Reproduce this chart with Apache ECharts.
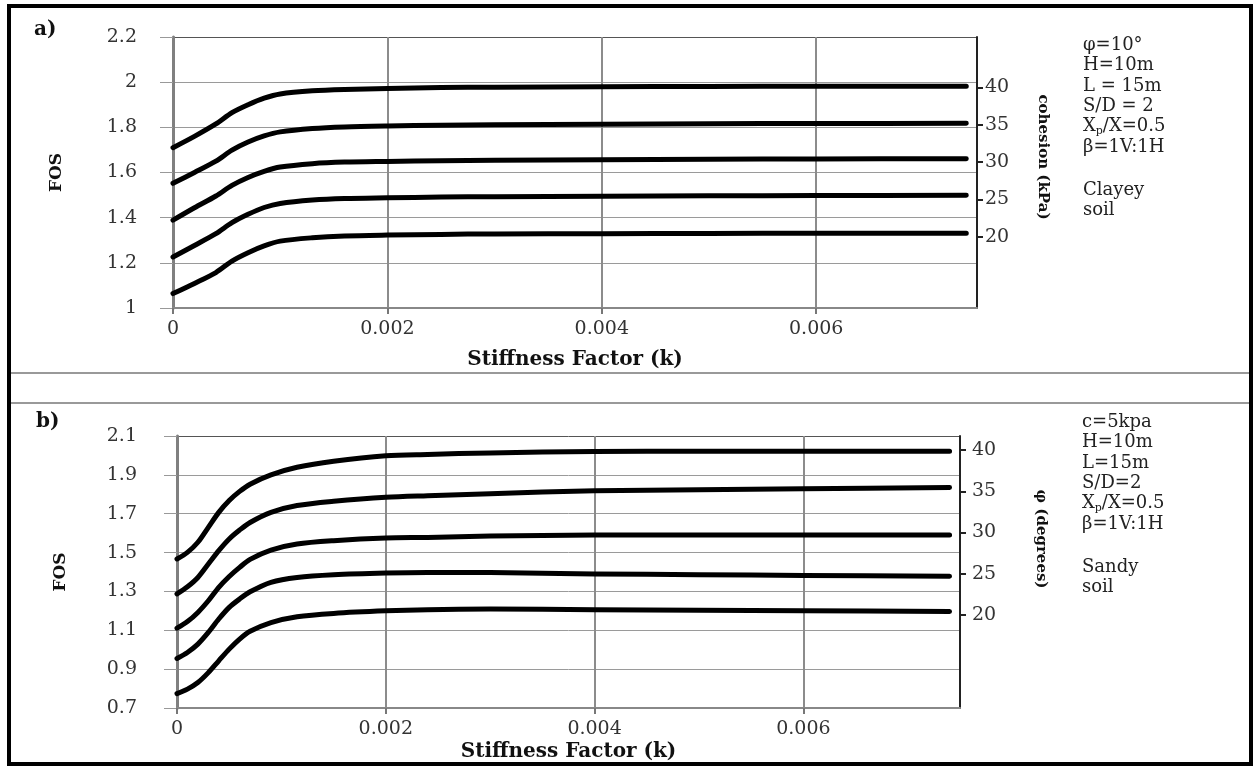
<!DOCTYPE html>
<html>
<head>
<meta charset="utf-8">
<title>FOS vs Stiffness Factor</title>
<script src="https://cdn.jsdelivr.net/npm/echarts@6/dist/echarts.min.js"></script>
<style>
  html, body { margin: 0; padding: 0; background: #fff; }
  #chart { width: 1258px; height: 769px; }
</style>
</head>
<body>
<div id="chart"></div>
<script>
(function () {

	// a) clayey soil - curves for cohesion 40..20 kPa
	var kA = [0, 0.0002, 0.0004, 0.00055, 0.0007, 0.00085, 0.001, 0.0013, 0.0016, 0.002, 0.0025, 0.003, 0.004, 0.005, 0.006, 0.0074];
	var fosC40 = [1.71, 1.76, 1.815, 1.865, 1.9, 1.929, 1.948, 1.962, 1.968, 1.972, 1.976, 1.978, 1.98, 1.981, 1.982, 1.982];
	var fosC35 = [1.552, 1.6, 1.65, 1.699, 1.735, 1.762, 1.78, 1.795, 1.802, 1.806, 1.809, 1.811, 1.814, 1.816, 1.817, 1.818];
	var fosC30 = [1.389, 1.444, 1.496, 1.543, 1.578, 1.605, 1.624, 1.639, 1.646, 1.649, 1.652, 1.654, 1.657, 1.659, 1.66, 1.661];
	var fosC25 = [1.226, 1.277, 1.329, 1.378, 1.415, 1.445, 1.463, 1.478, 1.485, 1.488, 1.491, 1.493, 1.495, 1.497, 1.498, 1.499];
	var fosC20 = [1.064, 1.109, 1.157, 1.208, 1.245, 1.275, 1.296, 1.311, 1.319, 1.323, 1.326, 1.328, 1.329, 1.33, 1.331, 1.331];

	// b) sandy soil - curves for friction angle 40..20 degrees
	var kB = [0, 0.0001, 0.0002, 0.0003, 0.0004, 0.0005, 0.0006, 0.0007, 0.0009, 0.00115, 0.0015, 0.002, 0.0024, 0.003, 0.004, 0.005, 0.006, 0.0074];
	var fosP40 = [1.467, 1.501, 1.553, 1.63, 1.707, 1.768, 1.815, 1.852, 1.9, 1.939, 1.97, 1.998, 2.005, 2.013, 2.02, 2.022, 2.022, 2.022];
	var fosP35 = [1.287, 1.324, 1.372, 1.441, 1.51, 1.57, 1.616, 1.655, 1.707, 1.742, 1.764, 1.785, 1.793, 1.803, 1.818, 1.823, 1.828, 1.835];
	var fosP30 = [1.111, 1.145, 1.192, 1.252, 1.321, 1.377, 1.424, 1.465, 1.513, 1.544, 1.561, 1.575, 1.578, 1.585, 1.59, 1.591, 1.591, 1.591];
	var fosP25 = [0.955, 0.986, 1.029, 1.089, 1.158, 1.218, 1.261, 1.298, 1.347, 1.372, 1.386, 1.395, 1.398, 1.397, 1.39, 1.386, 1.382, 1.378];
	var fosP20 = [0.774, 0.797, 0.831, 0.882, 0.943, 1.003, 1.055, 1.095, 1.14, 1.17, 1.187, 1.2, 1.206, 1.209, 1.206, 1.203, 1.2, 1.197];

	// tick labels
	var kTicks = [0, 0.002, 0.004, 0.006];
	var cohesionTicks = [20, 25, 30, 35, 40];
	var phiTicks = [20, 25, 30, 35, 40];

	// notes on the right of each panel
	var notesA = ['φ=10°', 'H=10m', 'L = 15m', 'S/D = 2', 'X{sub|p}/X=0.5', 'β=1V:1H'];
	var soilA = ['Clayey', 'soil'];
	var notesB = ['c=5kpa', 'H=10m', 'L=15m', 'S/D=2', 'X{sub|p}/X=0.5', 'β=1V:1H'];
	var soilB = ['Sandy', 'soil'];

	var FONT = '"DejaVu Serif", "Liberation Serif", serif';

	function pairs(xs, ys) {
		return xs.map(function (x, i) { return [x, ys[i]]; });
	}

	function curve(name, xi, yi, xs, ys) {
		return {
			name: name,
			type: 'line',
			xAxisIndex: xi,
			yAxisIndex: yi,
			data: pairs(xs, ys),
			smooth: 0.3,
			showSymbol: false,
			silent: true,
			lineStyle: { color: '#000', width: 5, cap: 'round', join: 'round' }
		};
	}

	function kAxis(gridIndex, max, gap) {
		return {
			type: 'value',
			gridIndex: gridIndex,
			min: 0,
			max: max,
			interval: 0.002,
			name: 'Stiffness Factor (k)',
			nameLocation: 'middle',
			nameGap: gap,
			nameTextStyle: { fontFamily: FONT, fontSize: 20, fontWeight: 'bold', color: '#111' },
			axisLine: { show: true, lineStyle: { color: '#888', width: 2 } },
			axisTick: { show: true, customValues: kTicks, length: 6, lineStyle: { color: '#777', width: 2 } },
			axisLabel: {
				customValues: kTicks,
				margin: 12,
				fontFamily: FONT, fontSize: 19, color: '#333',
				formatter: function (v) { return v === 0 ? '0' : v.toFixed(3); }
			},
			splitLine: { show: true, lineStyle: { color: '#8c8c8c', width: 2 } }
		};
	}

	function fosAxis(gridIndex, min, max, margin, nLines) {
		var colors = [];
		for (var i = 0; i < nLines - 1; i++) colors.push('#9a9a9a');
		colors.push('#555');
		return {
			type: 'value',
			gridIndex: gridIndex,
			position: 'left',
			min: min,
			max: max,
			interval: 0.2,
			name: 'FOS',
			nameLocation: 'middle',
			nameRotate: 90,
			nameGap: 108,
			nameTextStyle: { fontFamily: FONT, fontSize: 17, fontWeight: 'bold', color: '#111' },
			axisLine: { show: true, lineStyle: { color: '#808080', width: 3 } },
			axisTick: { show: true, length: 13, lineStyle: { color: '#999', width: 1 } },
			axisLabel: { margin: margin, fontFamily: FONT, fontSize: 19, color: '#333' },
			splitLine: { show: true, lineStyle: { color: colors, width: 1 } }
		};
	}

	function sideAxis(gridIndex, min, max, ticks, margin) {
		return {
			type: 'value',
			gridIndex: gridIndex,
			position: 'right',
			min: min,
			max: max,
			axisLine: { show: true, lineStyle: { color: '#222', width: 2 } },
			axisTick: { show: true, customValues: ticks, length: 6, lineStyle: { color: '#222', width: 2 } },
			axisLabel: { customValues: ticks, margin: margin, fontFamily: FONT, fontSize: 19, color: '#333' },
			splitLine: { show: false }
		};
	}

	function noteBlock(lines, x, y) {
		return {
			type: 'text',
			left: x,
			top: y,
			silent: true,
			style: {
				text: lines.join('\n'),
				fontFamily: FONT,
				fontSize: 18,
				lineHeight: 20.4,
				fill: '#222',
				rich: {
					sub: { fontFamily: FONT, fontSize: 11, fill: '#222', verticalAlign: 'middle', padding: [9, 0, 0, 0] }
				}
			}
		};
	}

	function sideName(text, x, y) {
		return {
			type: 'text',
			x: x,
			y: y,
			rotation: -Math.PI / 2,
			silent: true,
			style: {
				text: text,
				fontFamily: FONT,
				fontSize: 15,
				fontWeight: 'bold',
				fill: '#111',
				align: 'center',
				verticalAlign: 'middle'
			}
		};
	}

	var chart = echarts.init(document.getElementById('chart'), null, { renderer: 'canvas' });

	chart.setOption({
		backgroundColor: '#fff',
		animation: false,
		grid: [
			{ left: 173, top: 37, width: 804, height: 271 },
			{ left: 177, top: 436, width: 783, height: 272 }
		],
		xAxis: [
			kAxis(0, 0.0075, 42),
			kAxis(1, 0.0075, 34)
		],
		yAxis: [
			fosAxis(0, 1, 2.2, 36, 7),
			sideAxis(0, 10.51, 46.72, cohesionTicks, 8),
			fosAxis(1, 0.7, 2.1, 40, 8),
			sideAxis(1, 8.73, 41.7, phiTicks, 12)
		],
		series: [
			curve('c = 40 kPa', 0, 0, kA, fosC40),
			curve('c = 35 kPa', 0, 0, kA, fosC35),
			curve('c = 30 kPa', 0, 0, kA, fosC30),
			curve('c = 25 kPa', 0, 0, kA, fosC25),
			curve('c = 20 kPa', 0, 0, kA, fosC20),
			curve('φ = 40°', 1, 2, kB, fosP40),
			curve('φ = 35°', 1, 2, kB, fosP35),
			curve('φ = 30°', 1, 2, kB, fosP30),
			curve('φ = 25°', 1, 2, kB, fosP25),
			curve('φ = 20°', 1, 2, kB, fosP20)
		],
		graphic: [
			// outer frame and panel separators
			{ type: 'rect', silent: true, z: 100, shape: { x: 9, y: 6, width: 1242, height: 758 }, style: { fill: 'none', stroke: '#000', lineWidth: 4 } },
			{ type: 'line', silent: true, shape: { x1: 11, y1: 373, x2: 1249, y2: 373 }, style: { stroke: '#999', lineWidth: 2 } },
			{ type: 'line', silent: true, shape: { x1: 11, y1: 403, x2: 1249, y2: 403 }, style: { stroke: '#999', lineWidth: 2 } },
			// panel tags
			{ type: 'text', left: 34, top: 20, silent: true, style: { text: 'a)', fontFamily: FONT, fontSize: 20, fontWeight: 'bold', fill: '#111' } },
			{ type: 'text', left: 36, top: 412, silent: true, style: { text: 'b)', fontFamily: FONT, fontSize: 20, fontWeight: 'bold', fill: '#111' } },
			// right-hand axis titles
			sideName('cohesion (kPa)', 1043, 157),
			sideName('φ (degrees)', 1041, 539),
			// parameter notes
			noteBlock(notesA, 1083, 35),
			noteBlock(soilA, 1083, 180),
			noteBlock(notesB, 1082, 412),
			noteBlock(soilB, 1082, 557)
		]
	});
})();
</script>
</body>
</html>
